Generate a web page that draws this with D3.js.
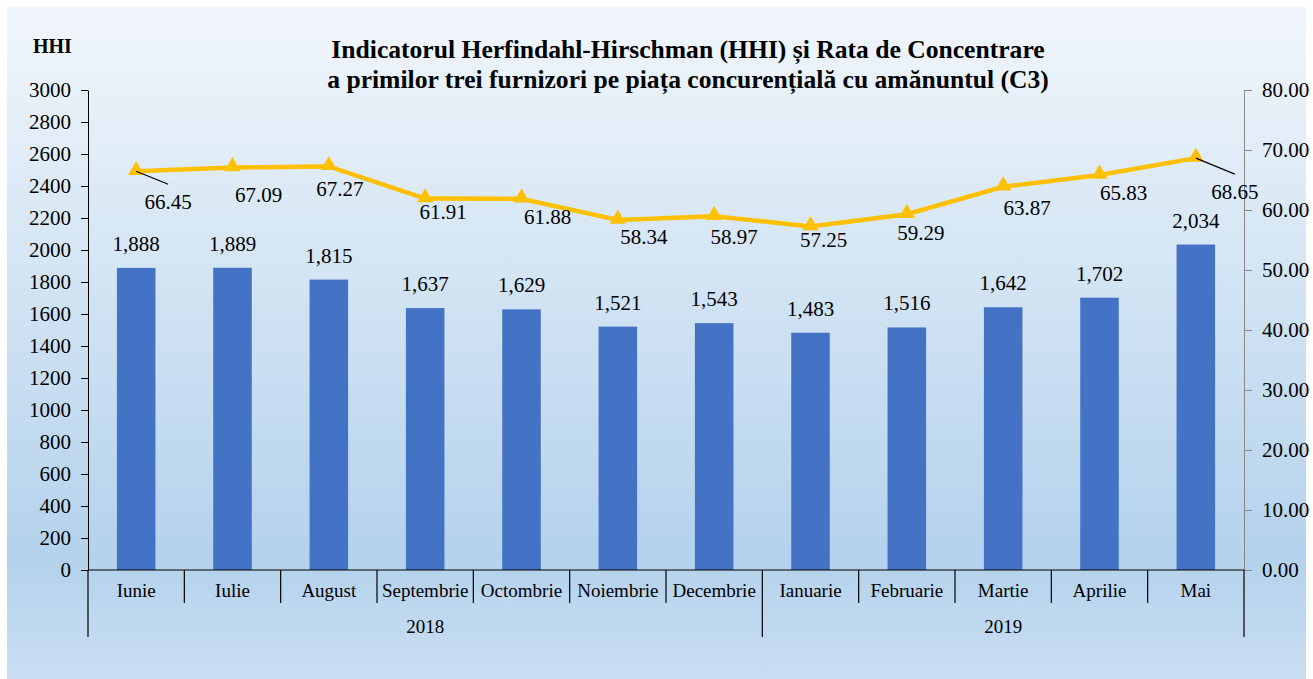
<!DOCTYPE html>
<html>
<head>
<meta charset="utf-8">
<script src="https://cdn.jsdelivr.net/npm/d3@7"></script>
<style>
  body { margin: 0; background: #fff; }
  svg text { font-family: "Liberation Serif", "DejaVu Serif", serif; fill: #000; }
</style>
</head>
<body>
<div id="chart"></div>
<script>
const width = 1313;
const height = 679;

// date
const months = ["Iunie", "Iulie", "August", "Septembrie", "Octombrie", "Noiembrie", "Decembrie",
  "Ianuarie", "Februarie", "Martie", "Aprilie", "Mai"];
const years = [{ label: "2018", count: 7 }, { label: "2019", count: 5 }];
const hhi = [1888, 1889, 1815, 1637, 1629, 1521, 1543, 1483, 1516, 1642, 1702, 2034];
const c3 = [66.45, 67.09, 67.27, 61.91, 61.88, 58.34, 58.97, 57.25, 59.29, 63.87, 65.83, 68.65];
const leftTicks = d3.range(0, 3001, 200);
const rightTicks = d3.range(0, 81, 10);

// deplasarea etichetelor C3 fata de punct (mutate manual in original)
const labelShift = [[32, 31], [26, 28], [11, 23], [18, 13], [26, 18], [26, 17],
  [20, 21], [13, 13], [14, 19], [24, 21], [24, 18], [39, 34]];

const margin = { left: 88, right: 1244, top: 90, bottom: 570 };
const serif = "'Liberation Serif', 'Times New Roman', serif";

const svg = d3.select("#chart").append("svg")
  .attr("width", width)
  .attr("height", height)
  .style("font-family", serif);

// fundal cu gradient
const grad = svg.append("defs").append("linearGradient")
  .attr("id", "bg").attr("x1", 0).attr("y1", 0).attr("x2", 0).attr("y2", 1);
grad.append("stop").attr("offset", "0%").attr("stop-color", "#f1f6fb");
grad.append("stop").attr("offset", "82%").attr("stop-color", "#b4d2ec");
grad.append("stop").attr("offset", "100%").attr("stop-color", "#c9def2");

svg.append("rect")
  .attr("x", 7).attr("y", 7)
  .attr("width", width - 14).attr("height", height - 7)
  .attr("fill", "url(#bg)");

// scale
const x = d3.scaleBand()
  .domain(months)
  .range([margin.left, margin.right])
  .padding(0);

const y = d3.scaleLinear()
  .domain([0, 3000])
  .range([margin.bottom, margin.top]);

const y2 = d3.scaleLinear()
  .domain([0, 80])
  .range([margin.bottom, margin.top]);

const barW = x.bandwidth() * 0.4;
const cx = i => x(months[i]) + x.bandwidth() / 2;

// bare HHI
svg.selectAll(".bar")
  .data(hhi)
  .enter()
  .append("rect")
  .attr("class", "bar")
  .attr("x", (d, i) => cx(i) - barW / 2)
  .attr("y", d => y(d))
  .attr("width", barW)
  .attr("height", d => y(0) - y(d))
  .attr("fill", "#4472c4");

svg.selectAll(".barlabel")
  .data(hhi)
  .enter()
  .append("text")
  .attr("x", (d, i) => cx(i))
  .attr("y", d => y(d) - 17)
  .attr("text-anchor", "middle")
  .style("font-size", "21px")
  .text(d => d3.format(",")(d));

// axa stanga
const leftAxis = svg.append("g")
  .attr("transform", `translate(${margin.left},0)`)
  .call(d3.axisLeft(y).tickValues(leftTicks).tickFormat(d3.format("d"))
    .tickSize(7).tickPadding(10).tickSizeOuter(0));
leftAxis.attr("font-family", serif);
leftAxis.selectAll("text").style("font-size", "21px");
leftAxis.selectAll("line, path").attr("stroke", "#000");

// axa dreapta
const rightAxis = svg.append("g")
  .attr("transform", `translate(${margin.right},0)`)
  .call(d3.axisRight(y2).tickValues(rightTicks).tickFormat(d3.format(".2f"))
    .tickSize(8).tickPadding(10).tickSizeOuter(0));
rightAxis.attr("font-family", serif);
rightAxis.selectAll("text").style("font-size", "21px");
rightAxis.selectAll("line, path").attr("stroke", "#888");

// axa categorii
svg.append("line")
  .attr("x1", margin.left).attr("x2", margin.right)
  .attr("y1", y(0)).attr("y2", y(0))
  .attr("stroke", "#000").attr("stroke-width", 1.2);

const bounds = d3.range(months.length + 1).map(i => margin.left + i * x.step());
const yearStart = [0];
years.forEach((yr, k) => yearStart.push(yearStart[k] + yr.count));

svg.selectAll(".sep")
  .data(bounds)
  .enter()
  .append("line")
  .attr("x1", d => d).attr("x2", d => d)
  .attr("y1", y(0))
  .attr("y2", (d, i) => yearStart.includes(i) ? 637 : 603)
  .attr("stroke", "#000").attr("stroke-width", 1.2);

svg.selectAll(".month")
  .data(months)
  .enter()
  .append("text")
  .attr("x", d => x(d) + x.bandwidth() / 2)
  .attr("y", 597)
  .attr("text-anchor", "middle")
  .style("font-size", "19px")
  .text(d => d);

svg.selectAll(".year")
  .data(years)
  .enter()
  .append("text")
  .attr("x", (d, k) => (bounds[yearStart[k]] + bounds[yearStart[k + 1]]) / 2)
  .attr("y", 633)
  .attr("text-anchor", "middle")
  .style("font-size", "19px")
  .text(d => d.label);

// linia C3
const line = d3.line()
  .x((d, i) => cx(i))
  .y(d => y2(d));

svg.append("path")
  .datum(c3)
  .attr("d", line)
  .attr("fill", "none")
  .attr("stroke", "#ffc000")
  .attr("stroke-width", 4.5);

svg.selectAll(".marker")
  .data(c3)
  .enter()
  .append("path")
  .attr("d", d3.symbol().type(d3.symbolTriangle).size(115))
  .attr("transform", (d, i) => `translate(${cx(i)},${y2(d) - 1})`)
  .attr("fill", "#ffc000");

// linii de legatura pentru prima si ultima eticheta
[0, c3.length - 1].forEach(i => {
  svg.append("line")
    .attr("x1", cx(i))
    .attr("y1", y2(c3[i]))
    .attr("x2", cx(i) + labelShift[i][0])
    .attr("y2", y2(c3[i]) + labelShift[i][1] - 18)
    .attr("stroke", "#000").attr("stroke-width", 1.2);
});

svg.selectAll(".c3label")
  .data(c3)
  .enter()
  .append("text")
  .attr("x", (d, i) => cx(i) + labelShift[i][0])
  .attr("y", (d, i) => y2(d) + labelShift[i][1] + 7)
  .attr("text-anchor", "middle")
  .style("font-size", "21px")
  .text(d => d3.format(".2f")(d));

// titlu
svg.append("text")
  .attr("x", 688).attr("y", 58)
  .attr("text-anchor", "middle")
  .style("font-size", "25.6px").style("font-weight", "bold")
  .text("Indicatorul Herfindahl-Hirschman (HHI) și Rata de Concentrare");
svg.append("text")
  .attr("x", 688).attr("y", 88)
  .attr("text-anchor", "middle")
  .style("font-size", "25.6px").style("font-weight", "bold")
  .text("a primilor trei furnizori pe piața concurențială cu amănuntul (C3)");

svg.append("text")
  .attr("x", 33).attr("y", 53)
  .style("font-size", "20px").style("font-weight", "bold")
  .text("HHI");
</script>
</body>
</html>
